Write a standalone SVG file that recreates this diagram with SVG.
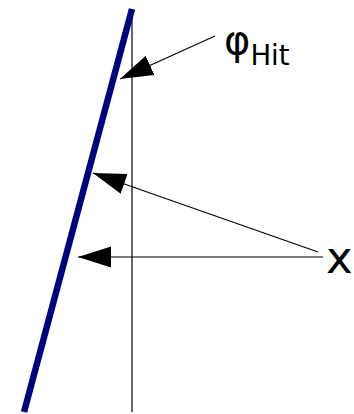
<svg xmlns="http://www.w3.org/2000/svg" width="354" height="414" viewBox="0 0 354 414">
<style>
.ax{stroke:#000;stroke-width:1.2;fill:none}
.ptr{stroke:#000;stroke-width:1.2;fill:none;marker-end:url(#ah)}
.lbl{font-family:"DejaVu Sans",sans-serif;fill:#000}
</style>
<defs>
<marker id="ah" markerUnits="userSpaceOnUse" markerWidth="34" markerHeight="22" refX="33" refY="10.5" orient="auto" viewBox="0 0 34 22">
<path d="M0,0 L33,10.5 L0,21 z" fill="#000"/>
</marker>
</defs>
<rect width="354" height="414" fill="#fff"/>
<g id="axis"><line class="ax" x1="132" y1="17" x2="132" y2="412"/></g>
<g id="surface"><line x1="132" y1="9" x2="24" y2="412" stroke="#000080" stroke-width="6.5"/></g>
<g id="connectors">
<line class="ptr" x1="215" y1="36" x2="120" y2="79"/>
<line class="ptr" x1="318" y1="252" x2="93" y2="173"/>
<line class="ptr" x1="323" y1="257" x2="78" y2="257"/>
</g>
<g id="label-phi"><text class="lbl" x="224" y="54" font-size="40">φ<tspan font-size="27.5" dy="11">Hit</tspan></text></g>
<g id="label-x"><text class="lbl" x="326" y="273" font-size="45">x</text></g>
</svg>
